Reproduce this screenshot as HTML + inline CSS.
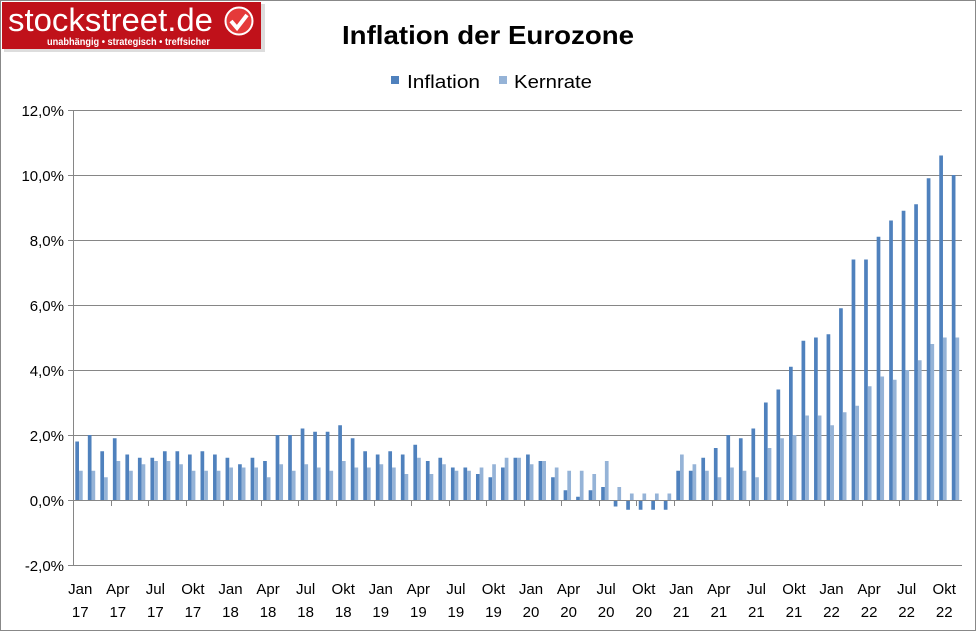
<!DOCTYPE html>
<html><head><meta charset="utf-8"><style>
body{margin:0;background:#fff;}
svg text{font-family:"Liberation Sans",sans-serif;}
</style></head><body>
<svg width="977" height="632" xmlns="http://www.w3.org/2000/svg">
<rect x="0.5" y="0.5" width="975" height="630" fill="#fff" stroke="#888"/>
<rect x="4" y="4" width="261" height="48" fill="#aaa" opacity="0.4"/>
<rect x="2" y="2" width="259" height="47" fill="#c0111a"/>
<text x="8" y="31" font-size="32" fill="#fff" textLength="205" lengthAdjust="spacingAndGlyphs">stockstreet.de</text>
<text x="47" y="45" font-size="10" fill="#fff" font-weight="bold" textLength="163" lengthAdjust="spacingAndGlyphs">unabhängig • strategisch • treffsicher</text>
<circle cx="239" cy="21" r="13.5" fill="#e53a3a" stroke="#fff" stroke-width="2"/>
<path d="M231 21 l6 7 l10 -13" stroke="#fff" stroke-width="4" fill="none"/>
<text x="488" y="44" font-size="26" font-weight="bold" text-anchor="middle" textLength="292" lengthAdjust="spacingAndGlyphs">Inflation der Eurozone</text>
<rect x="391" y="76" width="8" height="8" fill="#4f81bd"/>
<text x="407" y="88" font-size="18" textLength="73" lengthAdjust="spacingAndGlyphs">Inflation</text>
<rect x="499" y="76" width="8" height="8" fill="#95b3d7"/>
<text x="514" y="88" font-size="18" textLength="78" lengthAdjust="spacingAndGlyphs">Kernrate</text>
<g stroke="#868686" stroke-width="1">
<line x1="68" y1="110.5" x2="962" y2="110.5"/><line x1="68" y1="175.5" x2="962" y2="175.5"/>
<line x1="68" y1="240.5" x2="962" y2="240.5"/><line x1="68" y1="305.5" x2="962" y2="305.5"/>
<line x1="68" y1="370.5" x2="962" y2="370.5"/><line x1="68" y1="435.5" x2="962" y2="435.5"/>
<line x1="68" y1="565.5" x2="962" y2="565.5"/>
<line x1="73.5" y1="110" x2="73.5" y2="565"/>
</g>
<g font-size="15" text-anchor="end">
<text x="64" y="116">12,0%</text><text x="64" y="181">10,0%</text><text x="64" y="246">8,0%</text>
<text x="64" y="311">6,0%</text><text x="64" y="376">4,0%</text><text x="64" y="441">2,0%</text>
<text x="64" y="506">0,0%</text><text x="64" y="571">-2,0%</text>
</g>
<g id="bars"></g>
<line x1="68" y1="500.5" x2="962" y2="500.5" stroke="#868686"/>
<g id="ticks" stroke="#868686"></g>
<g id="labels" font-size="15" text-anchor="middle"></g>
</svg>
<script>
var inf=[1.8,2.0,1.5,1.9,1.4,1.3,1.3,1.5,1.5,1.4,1.5,1.4,
1.3,1.1,1.3,1.2,2.0,2.0,2.2,2.1,2.1,2.3,1.9,1.5,
1.4,1.5,1.4,1.7,1.2,1.3,1.0,1.0,0.8,0.7,1.0,1.3,
1.4,1.2,0.7,0.3,0.1,0.3,0.4,-0.2,-0.3,-0.3,-0.3,-0.3,
0.9,0.9,1.3,1.6,2.0,1.9,2.2,3.0,3.4,4.1,4.9,5.0,
5.1,5.9,7.4,7.4,8.1,8.6,8.9,9.1,9.9,10.6,10.0];
var core=[0.9,0.9,0.7,1.2,0.9,1.1,1.2,1.2,1.1,0.9,0.9,0.9,
1.0,1.0,1.0,0.7,1.1,0.9,1.1,1.0,0.9,1.2,1.0,1.0,
1.1,1.0,0.8,1.3,0.8,1.1,0.9,0.9,1.0,1.1,1.3,1.3,
1.1,1.2,1.0,0.9,0.9,0.8,1.2,0.4,0.2,0.2,0.2,0.2,
1.4,1.1,0.9,0.7,1.0,0.9,0.7,1.6,1.9,2.0,2.6,2.6,
2.3,2.7,2.9,3.5,3.8,3.7,4.0,4.3,4.8,5.0,5.0];
var ns="http://www.w3.org/2000/svg",W=889/71,g=document.getElementById('bars');
function bar(x,v,c){var r=document.createElementNS(ns,'rect');var y0=500,y=500-v*32.5;
r.setAttribute('x',x);r.setAttribute('width',3.7);r.setAttribute('y',Math.min(y,y0));r.setAttribute('height',Math.abs(y-y0));r.setAttribute('fill',c);g.appendChild(r);}
for(var i=0;i<71;i++){var x=73+i*W+2.3;bar(x,inf[i],'#4f81bd');bar(x+3.7,core[i],'#95b3d7');}
var t=document.getElementById('ticks'),l=document.getElementById('labels');
var m=['Jan','Apr','Jul','Okt'];
for(var k=1;k<=23;k++){var x=Math.round(73+k*3*W)+0.5;var ln=document.createElementNS(ns,'line');
ln.setAttribute('x1',x);ln.setAttribute('x2',x);ln.setAttribute('y1',500);ln.setAttribute('y2',506);t.appendChild(ln);}
for(var k=0;k<24;k++){var cx=73+(k*3+0.5)*W+1;
var a=document.createElementNS(ns,'text');a.setAttribute('x',cx);a.setAttribute('y',594);a.textContent=m[k%4];l.appendChild(a);
var b=document.createElementNS(ns,'text');b.setAttribute('x',cx);b.setAttribute('y',617);b.textContent=17+Math.floor(k/4);l.appendChild(b);}
</script>
</body></html>
